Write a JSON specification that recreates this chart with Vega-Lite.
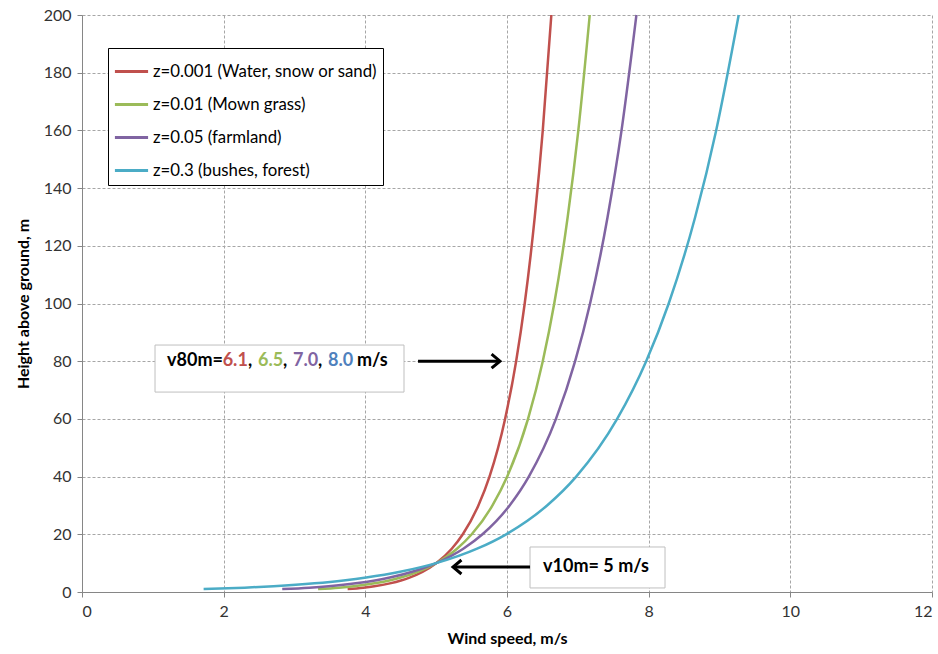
{
  "$schema": "https://vega.github.io/schema/vega-lite/v6.json",
  "width": 850,
  "height": 577,
  "autosize": {"type": "none"},
  "padding": {"left": 82, "top": 15, "right": 6, "bottom": 62},
  "background": "white",
  "config": {
    "view": {"stroke": null},
    "font": "Lato",
    "axis": {
      "labelFont": "Lato",
      "labelFontSize": 16,
      "labelColor": "#333333",
      "titleFont": "Lato",
      "titleFontSize": 16,
      "titleFontWeight": "bold",
      "titleColor": "#000000",
      "domainColor": "#868686",
      "domainWidth": 1,
      "tickColor": "#868686",
      "tickSize": 5,
      "grid": true,
      "gridColor": "#a6a6a6",
      "gridDash": [3, 2],
      "gridWidth": 1
    }
  },
  "datasets": {
    "profiles": [
      {"series": "z=0.001 (Water, snow or sand)", "h": 1, "v": 3.750},
      {"series": "z=0.001 (Water, snow or sand)", "h": 1.5, "v": 3.970},
      {"series": "z=0.001 (Water, snow or sand)", "h": 2, "v": 4.126},
      {"series": "z=0.001 (Water, snow or sand)", "h": 3, "v": 4.346},
      {"series": "z=0.001 (Water, snow or sand)", "h": 4, "v": 4.503},
      {"series": "z=0.001 (Water, snow or sand)", "h": 5, "v": 4.624},
      {"series": "z=0.001 (Water, snow or sand)", "h": 7, "v": 4.806},
      {"series": "z=0.001 (Water, snow or sand)", "h": 10, "v": 5.000},
      {"series": "z=0.001 (Water, snow or sand)", "h": 15, "v": 5.220},
      {"series": "z=0.001 (Water, snow or sand)", "h": 20, "v": 5.376},
      {"series": "z=0.001 (Water, snow or sand)", "h": 30, "v": 5.596},
      {"series": "z=0.001 (Water, snow or sand)", "h": 40, "v": 5.753},
      {"series": "z=0.001 (Water, snow or sand)", "h": 60, "v": 5.973},
      {"series": "z=0.001 (Water, snow or sand)", "h": 80, "v": 6.129},
      {"series": "z=0.001 (Water, snow or sand)", "h": 100, "v": 6.250},
      {"series": "z=0.001 (Water, snow or sand)", "h": 130, "v": 6.392},
      {"series": "z=0.001 (Water, snow or sand)", "h": 160, "v": 6.505},
      {"series": "z=0.001 (Water, snow or sand)", "h": 200, "v": 6.626},
      {"series": "z=0.01 (Mown grass)", "h": 1, "v": 3.333},
      {"series": "z=0.01 (Mown grass)", "h": 1.5, "v": 3.627},
      {"series": "z=0.01 (Mown grass)", "h": 2, "v": 3.835},
      {"series": "z=0.01 (Mown grass)", "h": 3, "v": 4.129},
      {"series": "z=0.01 (Mown grass)", "h": 4, "v": 4.337},
      {"series": "z=0.01 (Mown grass)", "h": 5, "v": 4.498},
      {"series": "z=0.01 (Mown grass)", "h": 7, "v": 4.742},
      {"series": "z=0.01 (Mown grass)", "h": 10, "v": 5.000},
      {"series": "z=0.01 (Mown grass)", "h": 15, "v": 5.294},
      {"series": "z=0.01 (Mown grass)", "h": 20, "v": 5.502},
      {"series": "z=0.01 (Mown grass)", "h": 30, "v": 5.795},
      {"series": "z=0.01 (Mown grass)", "h": 40, "v": 6.003},
      {"series": "z=0.01 (Mown grass)", "h": 60, "v": 6.297},
      {"series": "z=0.01 (Mown grass)", "h": 80, "v": 6.505},
      {"series": "z=0.01 (Mown grass)", "h": 100, "v": 6.667},
      {"series": "z=0.01 (Mown grass)", "h": 130, "v": 6.857},
      {"series": "z=0.01 (Mown grass)", "h": 160, "v": 7.007},
      {"series": "z=0.01 (Mown grass)", "h": 200, "v": 7.168},
      {"series": "z=0.05 (farmland)", "h": 1, "v": 2.827},
      {"series": "z=0.05 (farmland)", "h": 1.5, "v": 3.210},
      {"series": "z=0.05 (farmland)", "h": 2, "v": 3.481},
      {"series": "z=0.05 (farmland)", "h": 3, "v": 3.864},
      {"series": "z=0.05 (farmland)", "h": 4, "v": 4.135},
      {"series": "z=0.05 (farmland)", "h": 5, "v": 4.346},
      {"series": "z=0.05 (farmland)", "h": 7, "v": 4.663},
      {"series": "z=0.05 (farmland)", "h": 10, "v": 5.000},
      {"series": "z=0.05 (farmland)", "h": 15, "v": 5.383},
      {"series": "z=0.05 (farmland)", "h": 20, "v": 5.654},
      {"series": "z=0.05 (farmland)", "h": 30, "v": 6.037},
      {"series": "z=0.05 (farmland)", "h": 40, "v": 6.308},
      {"series": "z=0.05 (farmland)", "h": 60, "v": 6.691},
      {"series": "z=0.05 (farmland)", "h": 80, "v": 6.962},
      {"series": "z=0.05 (farmland)", "h": 100, "v": 7.173},
      {"series": "z=0.05 (farmland)", "h": 130, "v": 7.420},
      {"series": "z=0.05 (farmland)", "h": 160, "v": 7.617},
      {"series": "z=0.05 (farmland)", "h": 200, "v": 7.827},
      {"series": "z=0.3 (bushes, forest)", "h": 1, "v": 1.717},
      {"series": "z=0.3 (bushes, forest)", "h": 1.5, "v": 2.295},
      {"series": "z=0.3 (bushes, forest)", "h": 2, "v": 2.705},
      {"series": "z=0.3 (bushes, forest)", "h": 3, "v": 3.283},
      {"series": "z=0.3 (bushes, forest)", "h": 4, "v": 3.693},
      {"series": "z=0.3 (bushes, forest)", "h": 5, "v": 4.012},
      {"series": "z=0.3 (bushes, forest)", "h": 7, "v": 4.491},
      {"series": "z=0.3 (bushes, forest)", "h": 10, "v": 5.000},
      {"series": "z=0.3 (bushes, forest)", "h": 15, "v": 5.578},
      {"series": "z=0.3 (bushes, forest)", "h": 20, "v": 5.988},
      {"series": "z=0.3 (bushes, forest)", "h": 30, "v": 6.566},
      {"series": "z=0.3 (bushes, forest)", "h": 40, "v": 6.977},
      {"series": "z=0.3 (bushes, forest)", "h": 60, "v": 7.555},
      {"series": "z=0.3 (bushes, forest)", "h": 80, "v": 7.965},
      {"series": "z=0.3 (bushes, forest)", "h": 100, "v": 8.283},
      {"series": "z=0.3 (bushes, forest)", "h": 130, "v": 8.657},
      {"series": "z=0.3 (bushes, forest)", "h": 160, "v": 8.953},
      {"series": "z=0.3 (bushes, forest)", "h": 200, "v": 9.271}
    ],
    "boxes": [
      {"x1": 1.031, "x2": 4.546, "y1": 69.3, "y2": 85.6},
      {"x1": 6.325, "x2": 8.231, "y1": 1.4, "y2": 15.6}
    ],
    "texts": [
      {"x": 1.200, "y": 80, "t": "v80m=", "g": "text"},
      {"x": 1.986, "y": 80, "t": "6.1", "g": "a"},
      {"x": 2.344, "y": 80, "t": ",", "g": "text"},
      {"x": 2.485, "y": 80, "t": "6.5", "g": "b"},
      {"x": 2.838, "y": 80, "t": ",", "g": "text"},
      {"x": 2.979, "y": 80, "t": "7.0", "g": "c"},
      {"x": 3.332, "y": 80, "t": ",", "g": "text"},
      {"x": 3.473, "y": 80, "t": "8.0", "g": "d"},
      {"x": 3.882, "y": 80, "t": "m/s", "g": "text"},
      {"x": 6.509, "y": 8.67, "t": "v10m= 5 m/s", "g": "text"}
    ],
    "arrows": [
      {"x1": 4.744, "x2": 5.901, "y": 80, "dir": "right"},
      {"x1": 5.238, "x2": 6.325, "y": 8.67, "dir": "left"}
    ]
  },
  "resolve": {"scale": {"color": "independent"}},
  "layer": [
    {
      "data": {"name": "profiles"},
      "mark": {"type": "line", "interpolate": "monotone", "strokeWidth": 2.5},
      "encoding": {
        "x": {
          "field": "v", "type": "quantitative",
          "scale": {"domain": [0, 12], "nice": false},
          "axis": {"values": [0, 2, 4, 6, 8, 10, 12], "format": "d", "title": "Wind speed, m/s", "labelPadding": 6, "titlePadding": 11}
        },
        "y": {
          "field": "h", "type": "quantitative",
          "scale": {"domain": [0, 200], "nice": false},
          "axis": {"values": [0, 20, 40, 60, 80, 100, 120, 140, 160, 180, 200], "format": "d", "title": "Height above ground, m", "labelPadding": 6, "titlePadding": 12}
        },
        "color": {
          "field": "series", "type": "nominal",
          "scale": {
            "domain": ["z=0.001 (Water, snow or sand)", "z=0.01 (Mown grass)", "z=0.05 (farmland)", "z=0.3 (bushes, forest)"],
            "range": ["#C0504D", "#9BBB59", "#8064A2", "#4BACC6"]
          },
          "legend": {
            "title": null, "orient": "none", "legendX": 26, "legendY": 33,
            "symbolType": "stroke", "symbolSize": 1100, "symbolStrokeWidth": 3,
            "labelFont": "Lato", "labelFontSize": 16.8, "labelColor": "#000000", "labelLimit": 400, "labelOffset": 3,
            "strokeColor": "#000000", "fillColor": "#ffffff", "padding": 5, "rowPadding": 5
          }
        },
        "order": {"field": "h", "type": "quantitative"}
      }
    },
    {
      "data": {"name": "boxes"},
      "mark": {"type": "rect", "fill": "#ffffff", "stroke": "#bfbfbf", "strokeWidth": 1},
      "encoding": {
        "x": {"field": "x1", "type": "quantitative", "title": "Wind speed, m/s"},
        "x2": {"field": "x2"},
        "y": {"field": "y1", "type": "quantitative", "title": "Height above ground, m"},
        "y2": {"field": "y2"}
      }
    },
    {
      "data": {"name": "texts"},
      "mark": {"type": "text", "align": "left", "baseline": "middle", "fontSize": 18, "fontWeight": "bold", "font": "Lato"},
      "encoding": {
        "x": {"field": "x", "type": "quantitative", "title": "Wind speed, m/s"},
        "y": {"field": "y", "type": "quantitative", "title": "Height above ground, m"},
        "text": {"field": "t"},
        "color": {
          "field": "g", "type": "nominal",
          "scale": {"domain": ["text", "a", "b", "c", "d"], "range": ["#000000", "#C0504D", "#9BBB59", "#8064A2", "#4F81BD"]},
          "legend": null
        }
      }
    },
    {
      "data": {"name": "arrows"},
      "mark": {"type": "rule", "color": "#000000", "strokeWidth": 3},
      "encoding": {
        "x": {"field": "x1", "type": "quantitative", "title": "Wind speed, m/s"},
        "x2": {"field": "x2"},
        "y": {"field": "y", "type": "quantitative", "title": "Height above ground, m"}
      }
    },
    {
      "data": {"name": "arrows"},
      "transform": [{"filter": "datum.dir == 'right'"}],
      "mark": {"type": "point", "shape": "M -1.2 -1 L 0 0 L -1.2 1", "filled": false, "stroke": "#000000", "strokeWidth": 3, "size": 196, "opacity": 1},
      "encoding": {
        "x": {"field": "x2", "type": "quantitative", "title": "Wind speed, m/s"},
        "y": {"field": "y", "type": "quantitative", "title": "Height above ground, m"}
      }
    },
    {
      "data": {"name": "arrows"},
      "transform": [{"filter": "datum.dir == 'left'"}],
      "mark": {"type": "point", "shape": "M 1.2 -1 L 0 0 L 1.2 1", "filled": false, "stroke": "#000000", "strokeWidth": 3, "size": 196, "opacity": 1},
      "encoding": {
        "x": {"field": "x1", "type": "quantitative", "title": "Wind speed, m/s"},
        "y": {"field": "y", "type": "quantitative", "title": "Height above ground, m"}
      }
    }
  ]
}
